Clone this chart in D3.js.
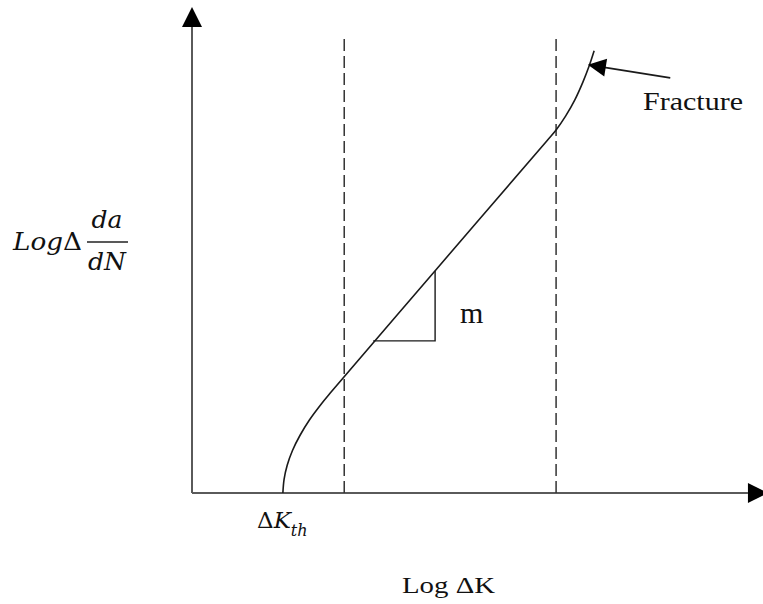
<!DOCTYPE html>
<html>
<head>
<meta charset="utf-8">
<script src="https://cdn.jsdelivr.net/npm/d3@7"></script>
<style>
  html, body { margin: 0; padding: 0; background: #fff; }
  svg { display: block; }
</style>
</head>
<body>
<svg id="chart" width="763" height="604"></svg>
<script>
// schematic fatigue crack growth curve, abstract log units (0..10 on each axis)
// lower knee, straight Paris region, upper knee up to fracture
const curveX = [1.600, 1.621, 1.676, 1.769, 1.900, 2.067, 2.273, 2.430, 4.30, 6.25, 6.41, 6.58, 6.74, 6.88, 6.99, 7.08];
const curveY = [0.000, 0.282, 0.572, 0.875, 1.183, 1.502, 1.827, 2.051, 4.60, 7.25, 7.47, 7.76, 8.09, 8.45, 8.78, 9.10];

// region boundaries (dashed)
const regionX = [2.68, 6.41];
const regionTop = 9.36;

// slope triangle: hypotenuse start, corner, top
const triX = [3.19, 4.28, 4.28];
const triY = [3.13, 3.13, 4.57];

// fracture arrow: tail -> tip
const fractureX = [8.42, 6.97];
const fractureY = [8.54, 8.81];

const axisEndX = 10.14;
const axisEndY = 10;

const svg = d3.select('#chart');
const margin = {top: 7, left: 192, bottom: 111};
const width = +svg.attr('width');
const height = +svg.attr('height');

const x = d3.scaleLinear().domain([0, 10]).range([margin.left, 760]);
const y = d3.scaleLinear().domain([0, 10]).range([height - margin.bottom, margin.top]);

const ink = '#1a1a1a';
const axisColor = '#5a5a5a';

// axes
const arrowLen = 20, arrowHalf = 10;
svg.append('line')
    .attr('x1', x(0)).attr('y1', y(0))
    .attr('x2', x(axisEndX) - arrowLen).attr('y2', y(0))
    .attr('stroke', axisColor).attr('stroke-width', 2);
svg.append('line')
    .attr('x1', x(0)).attr('y1', y(0))
    .attr('x2', x(0)).attr('y2', y(axisEndY) + arrowLen)
    .attr('stroke', axisColor).attr('stroke-width', 2);

// arrow heads
function head(tipX, tipY, dx, dy, len, half) {
    // dx,dy unit vector pointing toward tip
    const bx = tipX - dx * len, by = tipY - dy * len;
    const px = -dy, py = dx;
    return `M${tipX},${tipY}L${bx + px * half},${by + py * half}L${bx - px * half},${by - py * half}Z`;
}
svg.append('path')
    .attr('d', head(x(axisEndX), y(0), 1, 0, arrowLen, arrowHalf))
    .attr('fill', '#000');
svg.append('path')
    .attr('d', head(x(0), y(axisEndY), 0, -1, arrowLen, arrowHalf))
    .attr('fill', '#000');

// dashed region lines
svg.selectAll('.region')
    .data(regionX)
    .enter()
    .append('line')
    .attr('class', 'region')
    .attr('x1', d => x(d)).attr('x2', d => x(d))
    .attr('y1', y(0)).attr('y2', y(regionTop))
    .attr('stroke', '#333')
    .attr('stroke-width', 1.5)
    .attr('stroke-dasharray', '12,5');

// the curve
const pts = curveX.map((d, i) => [d, curveY[i]]);
svg.append('path')
    .datum(pts)
    .attr('d', d3.line()
        .x(d => x(d[0]))
        .y(d => y(d[1]))
        .curve(d3.curveCatmullRom.alpha(0.5)))
    .attr('fill', 'none')
    .attr('stroke', ink)
    .attr('stroke-width', 1.6);

// slope triangle
const triPts = triX.map((d, i) => [d, triY[i]]);
svg.append('path')
    .datum(triPts)
    .attr('d', d3.line().x(d => x(d[0])).y(d => y(d[1])))
    .attr('fill', 'none')
    .attr('stroke', ink)
    .attr('stroke-width', 1.4);

svg.append('text')
    .attr('x', x(triX[1]) + 25)
    .attr('y', y(triY[0]) - 18)
    .attr('font-family', 'Liberation Serif, Times New Roman, serif')
    .attr('font-size', 30)
    .attr('fill', '#111')
    .text('m');

// fracture arrow
const fx1 = x(fractureX[0]), fy1 = y(fractureY[0]);
const fx2 = x(fractureX[1]), fy2 = y(fractureY[1]);
const flen = Math.hypot(fx2 - fx1, fy2 - fy1);
const ux = (fx2 - fx1) / flen, uy = (fy2 - fy1) / flen;
svg.append('line')
    .attr('x1', fx1).attr('y1', fy1)
    .attr('x2', fx2 - ux * 15).attr('y2', fy2 - uy * 15)
    .attr('stroke', ink).attr('stroke-width', 1.8);
svg.append('path')
    .attr('d', head(fx2, fy2, ux, uy, 18, 9))
    .attr('fill', '#000');

svg.append('text')
    .attr('x', 643)
    .attr('y', 110)
    .attr('font-family', 'Liberation Serif, Times New Roman, serif')
    .attr('font-size', 25)
    .attr('textLength', 100)
    .attr('lengthAdjust', 'spacingAndGlyphs')
    .attr('fill', '#111')
    .text('Fracture');

// x axis label
svg.append('text')
    .attr('x', 402)
    .attr('y', 593)
    .attr('font-family', 'Liberation Serif, Times New Roman, serif')
    .attr('font-size', 24)
    .attr('textLength', 93)
    .attr('lengthAdjust', 'spacingAndGlyphs')
    .attr('fill', '#111')
    .text('Log ΔK');

// threshold label
const th = svg.append('text')
    .attr('x', 257)
    .attr('y', 528)
    .attr('font-family', 'DejaVu Serif, serif')
    .attr('font-size', 23)
    .attr('fill', '#111');
th.append('tspan').text('Δ');
th.append('tspan').attr('font-style', 'italic').text('K');
th.append('tspan')
    .attr('font-style', 'italic')
    .attr('font-size', 16)
    .attr('dy', 8)
    .text('th');

// y axis label
const ylab = svg.append('g')
    .attr('font-family', 'DejaVu Serif, serif')
    .attr('fill', '#111');
const logT = ylab.append('text')
    .attr('x', 13).attr('y', 250)
    .attr('font-size', 25)
    .attr('textLength', 69)
    .attr('lengthAdjust', 'spacingAndGlyphs');
logT.append('tspan').attr('font-style', 'italic').text('Log');
logT.append('tspan').text('Δ');
ylab.append('text')
    .attr('x', 107).attr('y', 228)
    .attr('text-anchor', 'middle')
    .attr('font-style', 'italic')
    .attr('font-size', 25)
    .text('da');
ylab.append('line')
    .attr('x1', 87).attr('x2', 128)
    .attr('y1', 242).attr('y2', 242)
    .attr('stroke', '#222').attr('stroke-width', 1.5);
ylab.append('text')
    .attr('x', 107).attr('y', 270)
    .attr('text-anchor', 'middle')
    .attr('font-style', 'italic')
    .attr('font-size', 25)
    .text('dN');
</script>
</body>
</html>
